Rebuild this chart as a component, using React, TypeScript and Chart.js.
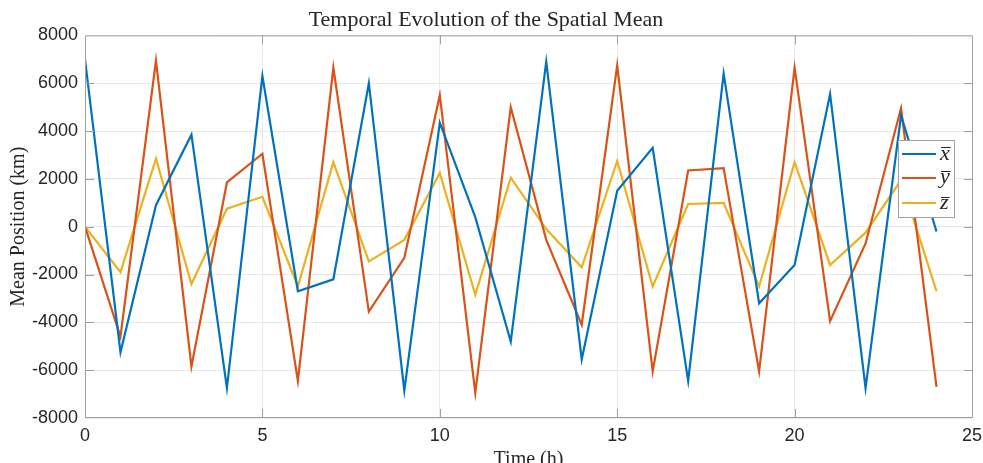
import { useEffect, useRef } from 'react';
import { Chart, registerables } from 'chart.js';

Chart.register(...registerables);

const hours = [0, 1, 2, 3, 4, 5, 6, 7, 8, 9, 10, 11, 12, 13, 14, 15, 16, 17, 18, 19, 20, 21, 22, 23, 24];
const xMean = [7000, -5250, 900, 3850, -6750, 6300, -2700, -2200, 6000, -6850, 4350, 400, -4800, 6900, -5550, 1500, 3300, -6450, 6400, -3200, -1600, 5550, -6750, 4650, -200];
const yMean = [0, -4600, 6950, -5850, 1850, 3050, -6450, 6650, -3550, -1300, 5500, -6950, 5000, -550, -4100, 6750, -6050, 2350, 2450, -6050, 6650, -3950, -700, 4950, -6700];
const zMean = [0, -1900, 2850, -2400, 750, 1250, -2500, 2700, -1450, -550, 2250, -2850, 2050, -100, -1700, 2750, -2500, 950, 1000, -2500, 2700, -1600, -250, 1950, -2700];
const seriesLabels = ['x', 'y', 'z'];
const seriesColors = ['#0072BD', '#D95319', '#EDB120'];
const xTicks = [0, 5, 10, 15, 20, 25];
const yTicks = [-8000, -6000, -4000, -2000, 0, 2000, 4000, 6000, 8000];

const chartTitle = 'Temporal Evolution of the Spatial Mean';
const xLabel = 'Time (h)';
const yLabel = 'Mean Position (km)';

const FRAME = '#a0a0a0';
const TEXT = '#262626';
const GRID = '#e9e9e9';

const framePlugin = {
  id: 'frameTicksLegend',
  afterDatasetsDraw(chart: any) {
    const { ctx, chartArea, scales } = chart;
    const { left, right, top, bottom } = chartArea;
    ctx.save();
    ctx.strokeStyle = FRAME;
    ctx.lineWidth = 1;
    ctx.beginPath();
    ctx.rect(left + 0.5, top + 0.5, right - left, bottom - top - 1);
    ctx.stroke();
    // inward ticks (interior ones only; the ends coincide with the box)
    const tl = 9;
    ctx.beginPath();
    xTicks.slice(1, -1).forEach((v) => {
      const px = Math.round(scales.x.getPixelForValue(v)) + 0.5;
      ctx.moveTo(px, bottom);
      ctx.lineTo(px, bottom - tl);
      ctx.moveTo(px, top);
      ctx.lineTo(px, top + tl);
    });
    yTicks.slice(1, -1).forEach((v) => {
      const py = Math.round(scales.y.getPixelForValue(v)) + 0.5;
      ctx.moveTo(left, py);
      ctx.lineTo(left + tl, py);
      ctx.moveTo(right + 1, py);
      ctx.lineTo(right + 1 - tl, py);
    });
    ctx.stroke();

    // legend
    const lx = 898.5, ly = 140.5, lw = 56, lh = 77;
    ctx.fillStyle = '#ffffff';
    ctx.fillRect(lx, ly, lw, lh);
    ctx.strokeStyle = FRAME;
    ctx.strokeRect(lx, ly, lw, lh);
    const rowY = [154, 178, 203];
    const overY = [147.5, 171.5, 197.5];
    chart.data.datasets.forEach((ds: any, i: number) => {
      const y = rowY[i];
      ctx.strokeStyle = ds.borderColor;
      ctx.lineWidth = 2;
      ctx.beginPath();
      ctx.moveTo(902, y);
      ctx.lineTo(936, y);
      ctx.stroke();
      ctx.fillStyle = TEXT;
      ctx.font = 'italic 22px "Liberation Serif"';
      ctx.textAlign = 'left';
      ctx.textBaseline = 'alphabetic';
      const letter = ds.label;
      const baseY = i === 1 ? y + 5 : y + 6;
      ctx.fillText(letter, 940, baseY);
      const w = ctx.measureText(letter).width;
      ctx.strokeStyle = TEXT;
      ctx.lineWidth = 1;
      ctx.beginPath();
      ctx.moveTo(941, overY[i]);
      ctx.lineTo(941 + w, overY[i]);
      ctx.stroke();
    });
    ctx.restore();
  },
};

export default function App() {
  const canvasRef = useRef<HTMLCanvasElement | null>(null);

  useEffect(() => {
    document.body.style.margin = '0';
    const canvas = canvasRef.current;
    if (!canvas) return;
    const series = [xMean, yMean, zMean];
    const chart = new Chart(canvas, {
      type: 'line',
      data: {
        datasets: series.map((vals, i) => ({
          label: seriesLabels[i],
          data: hours.map((h, j) => ({ x: h, y: vals[j] })),
          borderColor: seriesColors[i],
          backgroundColor: seriesColors[i],
          borderWidth: 2.2,
          pointRadius: 0,
          tension: 0,
          fill: false,
        })),
      },
      options: {
        animation: false,
        responsive: false,
        devicePixelRatio: 1,
        layout: { padding: { left: 0, right: 11, top: 0, bottom: 0 } },
        plugins: {
          legend: { display: false },
          tooltip: { enabled: false },
          title: {
            display: true,
            text: chartTitle,
            color: TEXT,
            font: { family: 'Liberation Serif', size: 22, weight: 'normal' },
            padding: { top: 7, bottom: 2 },
          },
        },
        scales: {
          x: {
            type: 'linear',
            min: 0,
            max: 25,
            afterBuildTicks: (s: any) => {
              s.ticks = xTicks.map((v) => ({ value: v }));
            },
            afterFit: (s: any) => {
              s.height = 45;
              s.paddingLeft = 0;
              s.paddingRight = 0;
            },
            grid: { color: GRID, drawTicks: false, lineWidth: 1 },
            border: { display: false },
            ticks: {
              color: TEXT,
              font: { family: 'Liberation Sans', size: 18 },
              padding: 7,
              maxRotation: 0,
              autoSkip: false,
              callback: (v: any) => String(v),
            },
            title: {
              display: true,
              text: xLabel,
              color: TEXT,
              font: { family: 'Liberation Serif', size: 20 },
              padding: { top: 0, bottom: -9 },
            },
          },
          y: {
            type: 'linear',
            min: -8000,
            max: 8000,
            afterBuildTicks: (s: any) => {
              s.ticks = yTicks.map((v) => ({ value: v }));
            },
            afterFit: (s: any) => {
              s.width = 85;
              s.paddingTop = 0;
              s.paddingBottom = 0;
            },
            grid: { color: GRID, drawTicks: false, lineWidth: 1 },
            border: { display: false },
            ticks: {
              color: TEXT,
              font: { family: 'Liberation Sans', size: 18 },
              padding: 7,
              autoSkip: false,
              callback: (v: any) => String(v),
            },
            title: {
              display: true,
              text: yLabel,
              color: TEXT,
              font: { family: 'Liberation Serif', size: 20 },
              padding: { top: 7, bottom: 0 },
            },
          },
        },
      },
      plugins: [framePlugin],
    });
    return () => {
      chart.destroy();
    };
  }, []);

  return (
    <div style={{ width: 983, height: 463, position: 'relative' }}>
      <canvas ref={canvasRef} width={983} height={463} style={{ display: 'block' }} />
    </div>
  );
}
